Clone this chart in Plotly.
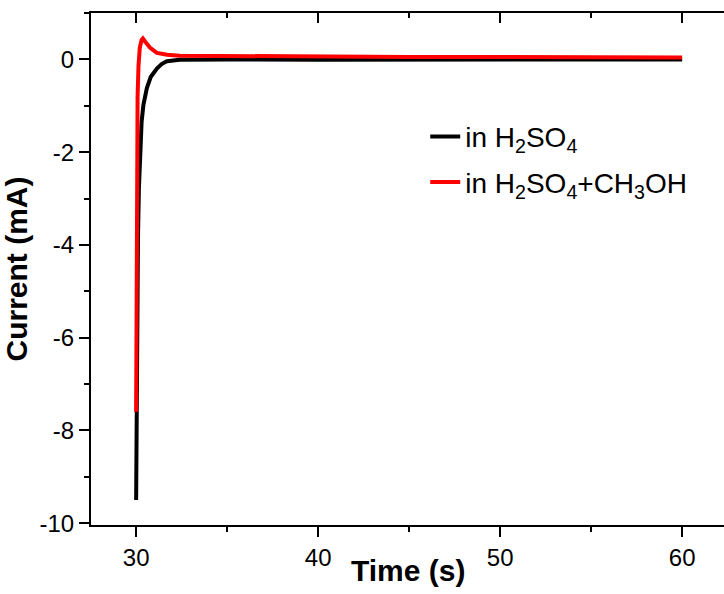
import plotly.graph_objects as go

# Data
t_h2so4 = [30.0, 30.01, 30.03, 30.06, 30.1, 30.15, 30.22, 30.3, 30.4, 30.59, 30.8, 31.14, 31.4, 31.69, 32.4, 35.0, 40.0, 45.0, 50.0, 55.0, 60.0]
i_h2so4 = [-9.5, -8.4, -7.0, -5.3, -3.9, -2.8, -1.94, -1.35, -0.98, -0.62, -0.38, -0.2, -0.1, -0.04, -0.01, 0.0, -0.01, -0.01, -0.01, 0.0, 0.0]

t_meoh = [30.0, 30.02, 30.04, 30.06, 30.08, 30.13, 30.2, 30.3, 30.37, 30.5, 30.77, 31.14, 31.7, 32.4, 35.0, 40.0, 45.0, 50.0, 55.0, 60.0]
i_meoh = [-7.6, -5.5, -3.5, -1.8, -0.8, -0.14, 0.25, 0.42, 0.45, 0.38, 0.25, 0.14, 0.1, 0.08, 0.07, 0.06, 0.05, 0.05, 0.05, 0.04]

x_range = [27.52, 62.3]
y_range = [-10.04, 1.0]
x_ticks = [30, 40, 50, 60]
y_ticks = [-10, -8, -6, -4, -2, 0]
y_ticktext = ["-10", "-8", "-6", "-4", "-2", "0"]
x_title = "<b>Time (s)</b>"
y_title = "<b>Current (mA)</b>"

FONT = "Arial, Liberation Sans, sans-serif"

fig = go.Figure()
fig.add_trace(go.Scatter(x=t_h2so4, y=i_h2so4, mode="lines", name="in H<sub>2</sub>SO<sub>4</sub>",
                         legendgroup="a", line=dict(color="black", width=4)))
fig.add_trace(go.Scatter(x=t_meoh, y=i_meoh, mode="lines", name="in H<sub>2</sub>SO<sub>4</sub>+CH<sub>3</sub>OH",
                         legendgroup="b", line=dict(color="#ff0000", width=4)))
# dummy trace to activate the top mirror axis
fig.add_trace(go.Scatter(x=[], y=[], xaxis="x2", showlegend=False, hoverinfo="skip"))

fig.update_layout(
    width=724, height=594,
    margin=dict(l=91, r=0, t=13, b=69),
    plot_bgcolor="white", paper_bgcolor="white",
    font=dict(family=FONT, color="black", size=24),
    showlegend=True,
    legend=dict(x=0.528, y=0.807, xanchor="left", yanchor="top",
                bgcolor="rgba(0,0,0,0)", font=dict(size=28, family=FONT),
                traceorder="grouped", tracegroupgap=6, itemwidth=30),
    xaxis=dict(range=x_range, tickvals=x_ticks, showgrid=False, zeroline=False, automargin=False,
               showline=True, linecolor="black", linewidth=2,
               ticks="outside", ticklen=10, tickwidth=2, tickcolor="black",
               minor=dict(dtick=5, tick0=0, ticks="outside", ticklen=5, tickwidth=2, tickcolor="black"),
               tickfont=dict(size=24)),
    xaxis2=dict(range=x_range, overlaying="x", side="top", tickvals=x_ticks, showticklabels=False,
                automargin=False,
                showgrid=False, zeroline=False, showline=True, linecolor="black", linewidth=2,
                ticks="inside", ticklen=10, tickwidth=2, tickcolor="black",
                minor=dict(dtick=5, tick0=0, ticks="inside", ticklen=5, tickwidth=2, tickcolor="black")),
    yaxis=dict(range=y_range, tickvals=y_ticks, ticktext=y_ticktext, showgrid=False, zeroline=False,
               automargin=False,
               showline=True, linecolor="black", linewidth=2,
               ticks="outside", ticklen=10, tickwidth=2, tickcolor="black",
               minor=dict(dtick=1, tick0=0, ticks="outside", ticklen=5, tickwidth=2, tickcolor="black"),
               tickfont=dict(size=24),
               title=dict(text=y_title, font=dict(size=30), standoff=8)),
    annotations=[dict(text=x_title, xref="paper", yref="paper", x=0.5, y=-0.088,
                      xanchor="center", yanchor="middle", showarrow=False,
                      font=dict(size=30, family=FONT, color="black"))],
)

fig.write_html("out.html", config={"displayModeBar": False},
               post_script="document.body.style.margin='0';document.body.style.overflow='hidden';")
